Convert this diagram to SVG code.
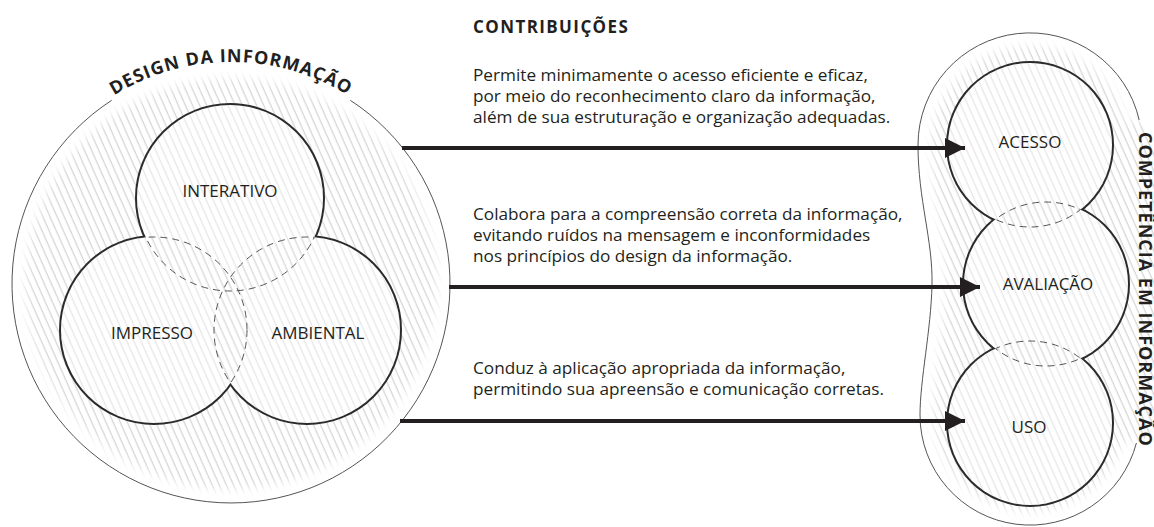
<svg xmlns="http://www.w3.org/2000/svg" width="1154" height="527" viewBox="0 0 1154 527">
<style>
.lbl{font-family:"Open Sans","Noto Sans",sans-serif;font-size:17px;fill:#231f20;text-anchor:middle}
.body{font-family:"Open Sans","Noto Sans",sans-serif;font-size:17.2px;fill:#231f20}
.title{font-family:"Open Sans","Noto Sans",sans-serif;font-weight:700;font-size:17px;letter-spacing:1.4px;fill:#231f20}
.ringtxt{font-family:"Open Sans","Noto Sans",sans-serif;font-weight:700;font-size:18px;letter-spacing:1px;fill:#231f20}
.solid{fill:none;stroke:#2b2b2b;stroke-width:4}
.dash{fill:none;stroke:#555;stroke-width:1;stroke-dasharray:7 5}
.outline{fill:none;stroke:#555;stroke-width:1}
.fade{fill:none;stroke:#fff;stroke-width:26;filter:url(#soft)}
.arrow{fill:none;stroke:#231f20;stroke-width:4;marker-end:url(#ah)}
.inner{fill:#fff}
.innerh{fill:url(#hatchL)}
</style>
<defs>
<pattern id="hatchD" width="6.5" height="10" patternUnits="userSpaceOnUse" patternTransform="rotate(-24)"><line x1="3" y1="-1" x2="3" y2="11" stroke="#c3c3c3" stroke-width="0.9"/></pattern>
<pattern id="hatchL" width="6.5" height="10" patternUnits="userSpaceOnUse" patternTransform="rotate(-24)"><line x1="3" y1="-1" x2="3" y2="11" stroke="#dcdcdc" stroke-width="0.9"/></pattern>
<filter id="soft" x="-20%" y="-20%" width="140%" height="140%"><feGaussianBlur stdDeviation="4"/></filter>
<marker id="ah" markerUnits="userSpaceOnUse" viewBox="0 0 20 20" markerWidth="20" markerHeight="20" refX="20" refY="10" orient="auto"><path d="M0,0 L20,10 L0,20 Z" fill="#231f20"/></marker>
<path id="arcTxt" d="M 9,284 A 222 222 0 0 1 453,284"/>
<clipPath id="cpBig"><circle cx="231" cy="284" r="219"/></clipPath>
<clipPath id="cpBlob"><path d="M 918,145 A 112 112 0 0 1 1139.2,120 L 1160,150 L 1160,430 L 1136.4,443 A 110 110 0 0 1 920,415 C 920,380 931,330 932,285 C 933,240 918,200 918,145 Z"/></clipPath>
<clipPath id="cpNotInt"><circle cx="154" cy="330" r="93"/><circle cx="307" cy="330" r="93"/></clipPath>
<clipPath id="cpNotImp"><circle cx="230" cy="198" r="93"/><circle cx="307" cy="330" r="93"/></clipPath>
<clipPath id="cpNotAmb"><circle cx="230" cy="198" r="93"/><circle cx="154" cy="330" r="93"/></clipPath>
<clipPath id="cpAval"><circle cx="1046" cy="284" r="82"/></clipPath>
<clipPath id="cpAcUso"><circle cx="1030" cy="145" r="82"/><circle cx="1030" cy="423" r="82"/></clipPath>
</defs>

<g id="design-informacao">
  <g clip-path="url(#cpBig)">
    <rect x="0" y="60" width="460" height="450" fill="url(#hatchD)"/>
    <circle cx="231" cy="284" r="219" class="fade"/>
  </g>
  <path class="outline" d="M 350.3,100.3 A 219 219 0 1 1 111.7,100.3"/>
  <text class="ringtxt"><textPath href="#arcTxt" startOffset="50%" text-anchor="middle">DESIGN DA INFORMAÇÃO</textPath></text>
</g>

<g id="circulos-design">
  <circle cx="230" cy="198" r="93" class="solid"/>
  <circle cx="154" cy="330" r="93" class="solid"/>
  <circle cx="307" cy="330" r="93" class="solid"/>
  <circle cx="230" cy="198" r="93" class="inner"/>
  <circle cx="154" cy="330" r="93" class="inner"/>
  <circle cx="307" cy="330" r="93" class="inner"/>
  <circle cx="230" cy="198" r="93" class="innerh"/>
  <circle cx="154" cy="330" r="93" class="innerh"/>
  <circle cx="307" cy="330" r="93" class="innerh"/>
  <circle cx="230" cy="198" r="93" class="dash" clip-path="url(#cpNotInt)"/>
  <circle cx="154" cy="330" r="93" class="dash" clip-path="url(#cpNotImp)"/>
  <circle cx="307" cy="330" r="93" class="dash" clip-path="url(#cpNotAmb)"/>
</g>
<g id="interativo"><text class="lbl" x="230" y="197">INTERATIVO</text></g>
<g id="impresso"><text class="lbl" x="152" y="339">IMPRESSO</text></g>
<g id="ambiental"><text class="lbl" x="318" y="339">AMBIENTAL</text></g>

<g id="competencia-informacao">
  <g clip-path="url(#cpBlob)">
    <rect x="900" y="20" width="260" height="507" fill="url(#hatchD)"/>
    <path class="fade" d="M 1139.2,120 A 112 112 0 0 0 918,145 C 918,200 933,240 932,285 C 931,330 920,380 920,415 A 110 110 0 0 0 1136.4,443"/>
  </g>
  <path class="outline" d="M 1139.2,120 A 112 112 0 0 0 918,145 C 918,200 933,240 932,285 C 931,330 920,380 920,415 A 110 110 0 0 0 1136.4,443"/>
  <text class="ringtxt" transform="translate(1139,132) rotate(90)" x="0" y="0">COMPETÊNCIA EM INFORMAÇÃO</text>
</g>

<g id="circulos-competencia">
  <circle cx="1030" cy="145" r="82" class="solid"/>
  <circle cx="1046" cy="284" r="82" class="solid"/>
  <circle cx="1030" cy="423" r="82" class="solid"/>
  <circle cx="1030" cy="145" r="82" class="inner"/>
  <circle cx="1046" cy="284" r="82" class="inner"/>
  <circle cx="1030" cy="423" r="82" class="inner"/>
  <circle cx="1030" cy="145" r="82" class="innerh"/>
  <circle cx="1046" cy="284" r="82" class="innerh"/>
  <circle cx="1030" cy="423" r="82" class="innerh"/>
  <circle cx="1030" cy="145" r="82" class="dash" clip-path="url(#cpAval)"/>
  <circle cx="1046" cy="284" r="82" class="dash" clip-path="url(#cpAcUso)"/>
  <circle cx="1030" cy="423" r="82" class="dash" clip-path="url(#cpAval)"/>
</g>
<g id="acesso"><text class="lbl" x="1030" y="148">ACESSO</text></g>
<g id="avaliacao"><text class="lbl" x="1048" y="290">AVALIAÇÃO</text></g>
<g id="uso"><text class="lbl" x="1029" y="433">USO</text></g>

<g id="contribuicoes">
  <text class="title" x="473" y="33">CONTRIBUIÇÕES</text>
  <text class="body" x="473" y="81">Permite minimamente o acesso eficiente e eficaz,</text>
  <text class="body" x="473" y="102">por meio do reconhecimento claro da informação,</text>
  <text class="body" x="473" y="123">além de sua estruturação e organização adequadas.</text>
  <text class="body" x="473" y="220">Colabora para a compreensão correta da informação,</text>
  <text class="body" x="473" y="241">evitando ruídos na mensagem e inconformidades</text>
  <text class="body" x="473" y="262">nos princípios do design da informação.</text>
  <text class="body" x="473" y="374">Conduz à aplicação apropriada da informação,</text>
  <text class="body" x="473" y="395">permitindo sua apreensão e comunicação corretas.</text>
</g>

<g id="conectores">
  <line class="arrow" x1="402" y1="148" x2="965" y2="148"/>
  <line class="arrow" x1="449" y1="287" x2="980" y2="287"/>
  <line class="arrow" x1="400" y1="421" x2="965" y2="421"/>
</g>
</svg>
